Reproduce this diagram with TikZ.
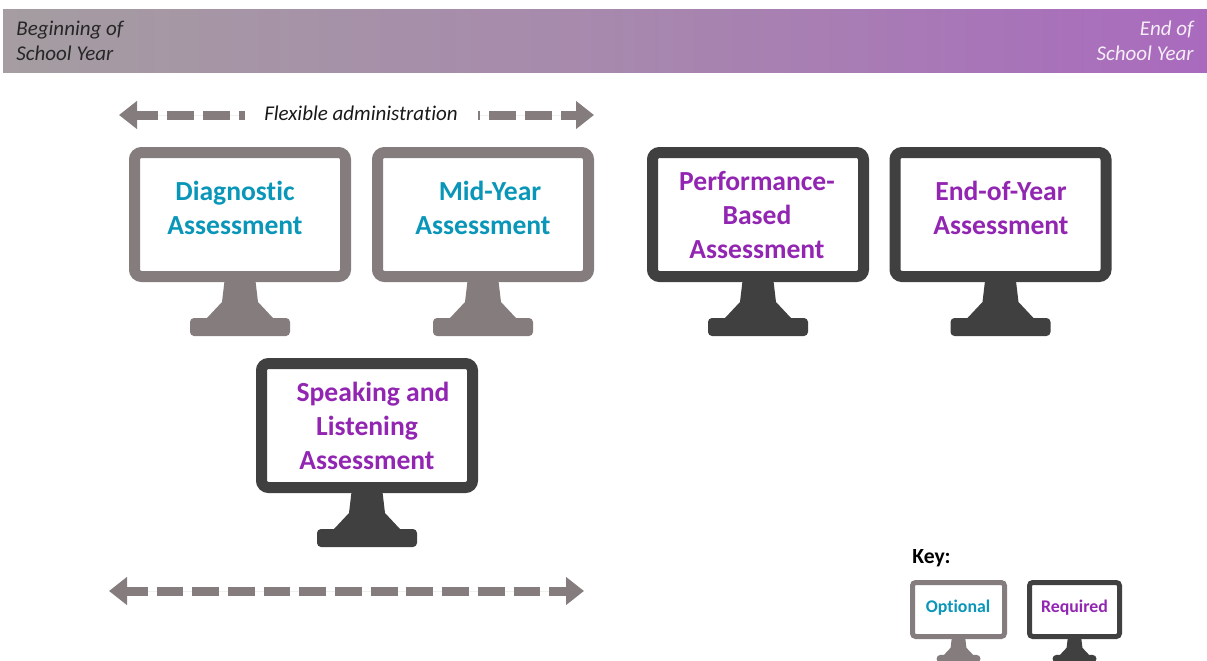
\documentclass[tikz,border=0pt]{standalone}
\usepackage{fontspec}
\setmainfont[Ligatures=NoCommon]{Carlito}
\usepackage{tikz}
\usetikzlibrary{arrows.meta}
\definecolor{optionalgray}{HTML}{857D7D}
\definecolor{requireddark}{HTML}{404040}
\definecolor{optionalteal}{HTML}{0A96B8}
\definecolor{requiredpurple}{HTML}{9226B2}
\definecolor{barA}{HTML}{928D8D}
\definecolor{barB}{HTML}{A59DA1}
\definecolor{barC}{HTML}{A789AD}
\definecolor{barD}{HTML}{A96ABE}
\definecolor{barE}{HTML}{AC56C6}
\pgfdeclarehorizontalshading{yearbar}{100bp}{
	color(0bp)=(barA);
	color(25bp)=(barB);
	color(50bp)=(barC);
	color(75bp)=(barD);
	color(100bp)=(barE)}
\tikzset{screen/.style = {draw=#1, fill=white, line width=5.5pt, rounded corners=3.5pt, minimum width=105.5pt, minimum height=62pt, inner sep=0pt}}
\tikzset{keyscreen/.style = {screen=#1, line width=2.5pt, rounded corners=1.6pt, minimum width=46pt, minimum height=27pt}}
\tikzset{assesstext/.style = {text=#1, font=\fontsize{13.8}{17}\selectfont\bfseries, align=center, inner sep=0pt}}
\tikzset{keytext/.style = {text=#1, font=\fontsize{8.9}{10}\selectfont\bfseries, inner sep=0pt}}
\tikzset{yeartext/.style = {font=\fontsize{10.5}{12.5}\selectfont\itshape, inner sep=0pt}}
\tikzset{blockarrow/.style = {draw=optionalgray, fill=optionalgray, line width=4.5pt, >={Triangle[length=9pt,width=13.5pt]}}}
\newcommand{\standof}[2]{\fill[#2] (#1.south) +(-15.5,-1) -- +(-18,20) -- +(-33,36) [rounded corners=2pt] -- +(-50,36) -- +(-50,54) -- +(50,54) -- +(50,36) [sharp corners] -- +(33,36) -- +(18,20) -- +(15.5,-1) -- cycle;}
\begin{document}
\begin{tikzpicture}[x=.5pt,y=-.5pt]
	\useasboundingbox (0,0) rectangle (1207,660);
	\clip (0,0) rectangle (1207,660);
	% year bar
	\shade[shading=yearbar] (3,9) rectangle (1207,72);
	\node[yeartext, anchor=north west, text=black!85, align=left] (begintext) at (16,21) {Beginning of\\School Year};
	\node[yeartext, anchor=north east, text=white!90!barE, align=right] (endtext) at (1194,21) {End of\\School Year};
	% flexible window
	\node[yeartext, text=black!90] (flextext) at (361,113) {Flexible administration};
	\coordinate (flexleft) at (119,115);
	\coordinate (flexleftend) at (245,115);
	\coordinate (flexrightend) at (478,115);
	\coordinate (flexright) at (594,115);
	\draw[blockarrow, <-, dash pattern=on 13.5pt off 4.5pt, dash phase=2.5pt] (flexleft) -- (flexleftend);
	\draw[blockarrow, ->, dash pattern=on 13.5pt off 4.5pt, dash phase=12.5pt] (flexrightend) -- (flexright);
	% monitors
	\node[screen=optionalgray] (diagnostic) at (240,214.5) {};
	\standof{diagnostic}{optionalgray}
	\node[assesstext=optionalteal] (diagnostictext) at (235,208) {Diagnostic\\Assessment};
	\node[screen=optionalgray] (midyear) at (483,214.5) {};
	\standof{midyear}{optionalgray}
	\node[assesstext=optionalteal] (midyeartext) at (483,208) {\hspace*{7pt}Mid-Year\\Assessment};
	\node[screen=requireddark] (performance) at (758,214.5) {};
	\standof{performance}{requireddark}
	\node[assesstext=requiredpurple] (performancetext) at (757,215) {Performance-\\Based\\Assessment};
	\node[screen=requireddark] (endofyear) at (1000.5,214.5) {};
	\standof{endofyear}{requireddark}
	\node[assesstext=requiredpurple] (endofyeartext) at (1001,208) {End-of-Year\\Assessment};
	\node[screen=requireddark] (speaking) at (367,425.5) {};
	\standof{speaking}{requireddark}
	\node[assesstext=requiredpurple] (speakingtext) at (367,426) {\hspace*{6pt}Speaking and\\Listening\\Assessment};
	% lower arrow
	\coordinate (lowleft) at (109,591);
	\coordinate (lowright) at (584,591);
	\draw[blockarrow, <->, dash pattern=on 13.4pt off 4.45pt, dash phase=2.5pt] (lowleft) -- (lowright);
	% key
	\node[font=\fontsize{10.8}{12}\selectfont\bfseries, anchor=west, inner sep=0pt] (keytitle) at (912,558) {Key:};
	\node[keyscreen=optionalgray] (optional) at (958.5,609.5) {};
	\node[keyscreen=requireddark, minimum width=45pt] (required) at (1074.5,609.5) {};
	\begin{scope}[scale=.44]
		\standof{optional}{optionalgray}
		\standof{required}{requireddark}
	\end{scope}
	\node[keytext=optionalteal] (optionaltext) at (958,607.5) {Optional};
	\node[keytext=requiredpurple] (requiredtext) at (1074.5,607.5) {Required};
\end{tikzpicture}
\end{document}
